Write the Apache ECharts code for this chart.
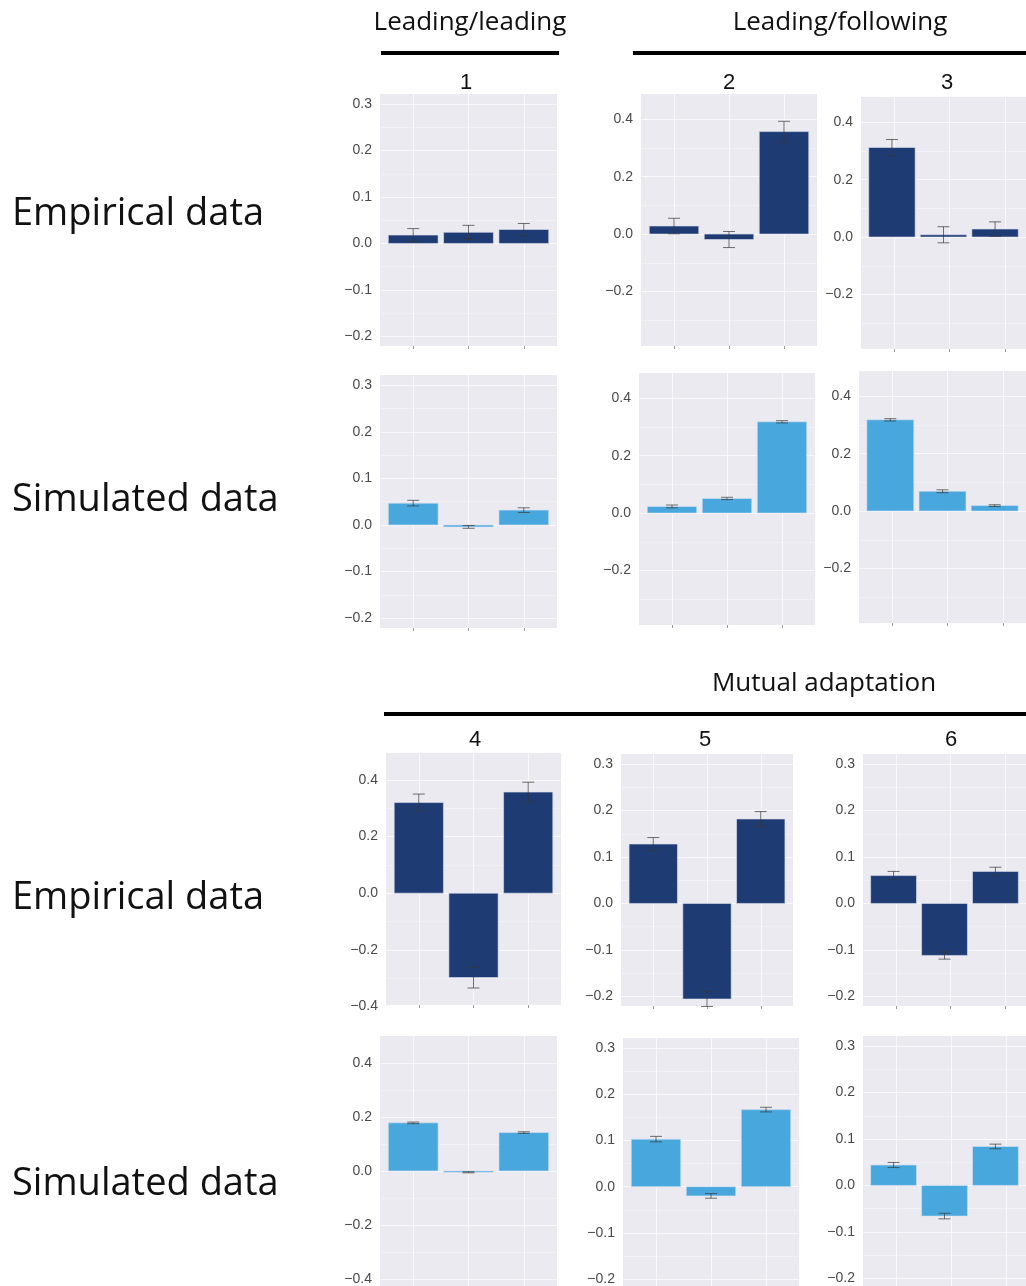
<!DOCTYPE html>
<html>
<head>
<meta charset="utf-8">
<script src="https://cdn.jsdelivr.net/npm/echarts@6/dist/echarts.min.js"></script>
<style>
  html, body { margin: 0; padding: 0; background: #ffffff; }
  #chart { width: 1026px; height: 1286px; }
</style>
</head>
<body>
<div id="chart"></div>
<script>
// ---- Data -------------------------------------------------------------
// Three conditions per panel, plotted left to right.
const conditions = [0, 1, 2];

// Empirical means and standard errors, panels 1-6
const empirical1 = [0.018, 0.024, 0.030];
const empiricalErr1 = [0.014, 0.015, 0.013];
const empirical2 = [0.028, -0.019, 0.357];
const empiricalErr2 = [0.027, 0.028, 0.036];
const empirical3 = [0.312, 0.008, 0.028];
const empiricalErr3 = [0.028, 0.028, 0.025];
const empirical4 = [0.320, -0.298, 0.357];
const empiricalErr4 = [0.030, 0.037, 0.035];
const empirical5 = [0.128, -0.206, 0.182];
const empiricalErr5 = [0.014, 0.016, 0.016];
const empirical6 = [0.060, -0.112, 0.069];
const empiricalErr6 = [0.009, 0.008, 0.009];

// Simulated means and standard errors, panels 1-6
const simulated1 = [0.047, -0.004, 0.032];
const simulatedErr1 = [0.006, 0.003, 0.005];
const simulated2 = [0.023, 0.051, 0.318];
const simulatedErr2 = [0.005, 0.004, 0.004];
const simulated3 = [0.318, 0.069, 0.019];
const simulatedErr3 = [0.004, 0.005, 0.003];
const simulated4 = [0.178, -0.005, 0.142];
const simulatedErr4 = [0.003, 0.002, 0.003];
const simulated5 = [0.103, -0.020, 0.167];
const simulatedErr5 = [0.006, 0.005, 0.005];
const simulated6 = [0.044, -0.066, 0.084];
const simulatedErr6 = [0.0055, 0.006, 0.005];

// Y tick labels for the three axis scales in use
const ticksSmall = [-0.2, -0.1, 0.0, 0.1, 0.2, 0.3];
const ticksMid = [-0.2, 0.0, 0.2, 0.4];
const ticksWide = [-0.4, -0.2, 0.0, 0.2, 0.4];

// Text
const groupTitles = ['Leading/leading', 'Leading/following', 'Mutual adaptation'];
const panelNumbers = ['1', '2', '3', '4', '5', '6'];
const rowTitles = ['Empirical data', 'Simulated data'];

// ---- Styling ---------------------------------------------------------
const EMP_COLOR = '#1f3b73';
const SIM_COLOR = '#48a8de';
const PLOT_BG = '#eaeaf0';
const X_EXTENT = [-0.6, 2.6];
const BAR_WIDTH = 0.9;

// Visible y extent of each scale (plot area edges)
const viewSmall = [-0.221, 0.322];
const viewMid = [-0.39, 0.488];
const viewWide = [-0.395, 0.495];

// Panel placement: [left, top, width, height] of the grey plot area
const panels = [
  { vals: empirical1, errs: empiricalErr1, color: EMP_COLOR, rect: [380, 94, 177, 252], ticks: ticksSmall, view: viewSmall },
  { vals: empirical2, errs: empiricalErr2, color: EMP_COLOR, rect: [641, 94, 176, 252], ticks: ticksMid, view: viewMid },
  { vals: empirical3, errs: empiricalErr3, color: EMP_COLOR, rect: [861, 97, 177, 252], ticks: ticksMid, view: viewMid },
  { vals: simulated1, errs: simulatedErr1, color: SIM_COLOR, rect: [380, 375, 177, 253], ticks: ticksSmall, view: viewSmall },
  { vals: simulated2, errs: simulatedErr2, color: SIM_COLOR, rect: [639, 373, 176, 252], ticks: ticksMid, view: viewMid },
  { vals: simulated3, errs: simulatedErr3, color: SIM_COLOR, rect: [859, 371, 177, 252], ticks: ticksMid, view: viewMid },
  { vals: empirical4, errs: empiricalErr4, color: EMP_COLOR, rect: [386, 753, 175, 252], ticks: ticksWide, view: viewWide },
  { vals: empirical5, errs: empiricalErr5, color: EMP_COLOR, rect: [621, 754, 172, 252], ticks: ticksSmall, view: viewSmall },
  { vals: empirical6, errs: empiricalErr6, color: EMP_COLOR, rect: [863, 754, 175, 252], ticks: ticksSmall, view: viewSmall },
  { vals: simulated4, errs: simulatedErr4, color: SIM_COLOR, rect: [380, 1036, 177, 252], ticks: ticksWide, view: viewWide },
  { vals: simulated5, errs: simulatedErr5, color: SIM_COLOR, rect: [623, 1038, 176, 252], ticks: ticksSmall, view: viewSmall },
  { vals: simulated6, errs: simulatedErr6, color: SIM_COLOR, rect: [863, 1036, 176, 252], ticks: ticksSmall, view: viewSmall }
];

function fmtTick(ticks) {
  return function (v) {
    const hit = ticks.some(t => Math.abs(t - v) < 1e-9);
    if (!hit) return '';
    const s = Math.abs(v).toFixed(1);
    return (v < -1e-9 ? '\u2212' : '') + s;
  };
}

// Bar with error whisker, positioned through the panel's axes
function renderBar(params, api) {
  const x = api.value(0), v = api.value(1), e = api.value(2);
  const color = api.value(3) === 0 ? EMP_COLOR : SIM_COLOR;
  const a = api.coord([x - BAR_WIDTH / 2, 0]);
  const b = api.coord([x + BAR_WIDTH / 2, v]);
  const hi = api.coord([x, v + e]);
  const lo = api.coord([x, v - e]);
  const cap = 6;
  const whisker = { stroke: 'rgba(55,55,55,0.7)', lineWidth: 1 };
  return {
    type: 'group',
    children: [
      {
        type: 'rect',
        shape: { x: a[0], y: Math.min(a[1], b[1]), width: b[0] - a[0], height: Math.max(Math.abs(b[1] - a[1]), 1) },
        style: { fill: color, stroke: 'rgba(220,225,240,0.6)', lineWidth: 1 }
      },
      { type: 'line', shape: { x1: hi[0], y1: hi[1], x2: lo[0], y2: lo[1] }, style: whisker },
      { type: 'line', shape: { x1: hi[0] - cap, y1: hi[1], x2: hi[0] + cap, y2: hi[1] }, style: whisker },
      { type: 'line', shape: { x1: lo[0] - cap, y1: lo[1], x2: lo[0] + cap, y2: lo[1] }, style: whisker }
    ]
  };
}

const grid = [], xAxis = [], yAxis = [], series = [];

panels.forEach(p => {
  const [L, T, W, H] = p.rect;
  const [lo, hi] = p.view;
  const ticks = p.ticks;
  const step = Math.round((ticks[1] - ticks[0]) * 1000) / 1000;
  let aMin = ticks[0], aMax = ticks[ticks.length - 1];
  if (lo < aMin - step / 2) aMin = Math.round((aMin - step) * 1000) / 1000;
  if (hi > aMax + step / 2) aMax = Math.round((aMax + step) * 1000) / 1000;
  const pxPerUnit = H / (hi - lo);

  // grey plot background
  let gi = grid.length;
  grid.push({ left: L, top: T, width: W, height: H, show: true, backgroundColor: PLOT_BG, borderWidth: 0, z: 0 });
  xAxis.push({ gridIndex: gi, type: 'value', show: false, min: 0, max: 1 });
  yAxis.push({ gridIndex: gi, type: 'value', show: false, min: 0, max: 1 });

  // y scale: horizontal grid lines, tick labels and the bars
  gi = grid.length;
  grid.push({ left: L, top: T + (hi - aMax) * pxPerUnit, width: W, height: (aMax - aMin) * pxPerUnit, show: false });
  xAxis.push({ gridIndex: gi, type: 'value', show: false, min: X_EXTENT[0], max: X_EXTENT[1] });
  yAxis.push({
    gridIndex: gi, type: 'value', min: aMin, max: aMax, interval: step, z: 1,
    axisLine: { show: false }, axisTick: { show: false },
    axisLabel: { formatter: fmtTick(ticks), fontFamily: 'Liberation Sans', fontSize: 14, color: '#4a4a4a', margin: 8 },
    splitLine: { show: true, lineStyle: { color: 'rgba(255,255,255,0.7)', width: 1 } },
    minorTick: { show: false, splitNumber: 2 },
    minorSplitLine: { show: true, lineStyle: { color: 'rgba(255,255,255,0.45)', width: 0.8 } }
  });
  series.push({
    type: 'custom', xAxisIndex: gi, yAxisIndex: gi, clip: false, z: 2,
    renderItem: renderBar,
    data: conditions.map((c, k) => [c, p.vals[k], p.errs[k], p.color === EMP_COLOR ? 0 : 1]),
    silent: true
  });

  // x scale: vertical grid lines at each condition, ticks at the bottom
  gi = grid.length;
  const span = X_EXTENT[1] - X_EXTENT[0];
  grid.push({ left: L + (0 - X_EXTENT[0]) / span * W, top: T, width: 2 / span * W, height: H, show: false });
  xAxis.push({
    gridIndex: gi, type: 'value', min: 0, max: 2, interval: 1, z: 1,
    axisLine: { show: false },
    axisTick: { show: true, length: 3, lineStyle: { color: '#9a9a9a' } },
    axisLabel: { show: false },
    splitLine: { show: true, lineStyle: { color: 'rgba(255,255,255,0.7)', width: 1 } }
  });
  yAxis.push({ gridIndex: gi, type: 'value', show: false, min: 0, max: 1 });
});

// Headings, group bars, panel numbers and row titles
const headFont = '26px "Open Sans"';
const rowFont = '38px "Open Sans"';
const numFont = '22px "Liberation Sans"';
function txt(text, x, y, font, align) {
  return {
    type: 'text', z: 10, silent: true,
    style: { text, x, y, font, fill: '#111111', align: align, textAlign: align, verticalAlign: 'middle', textVerticalAlign: 'middle' }
  };
}
function bar(x1, x2, y) {
  return { type: 'line', z: 10, silent: true, shape: { x1, y1: y, x2, y2: y }, style: { stroke: '#000000', lineWidth: 4 } };
}

const graphic = [
  txt(groupTitles[0], 470, 23, headFont, 'center'),
  txt(groupTitles[1], 840, 23, headFont, 'center'),
  txt(groupTitles[2], 824, 684, headFont, 'center'),
  bar(381, 559, 53),
  bar(633, 1030, 53),
  bar(384, 1030, 714),
  txt(panelNumbers[0], 466, 83, numFont, 'center'),
  txt(panelNumbers[1], 729, 83, numFont, 'center'),
  txt(panelNumbers[2], 947, 83, numFont, 'center'),
  txt(panelNumbers[3], 475, 740, numFont, 'center'),
  txt(panelNumbers[4], 705, 740, numFont, 'center'),
  txt(panelNumbers[5], 951, 740, numFont, 'center'),
  txt(rowTitles[0], 12, 214, rowFont, 'left'),
  txt(rowTitles[1], 12, 500, rowFont, 'left'),
  txt(rowTitles[0], 12, 898, rowFont, 'left'),
  txt(rowTitles[1], 12, 1184, rowFont, 'left')
];

const chart = echarts.init(document.getElementById('chart'), null, { renderer: 'canvas' });
chart.setOption({
  animation: false,
  backgroundColor: '#ffffff',
  grid, xAxis, yAxis, series, graphic
});
</script>
</body>
</html>
